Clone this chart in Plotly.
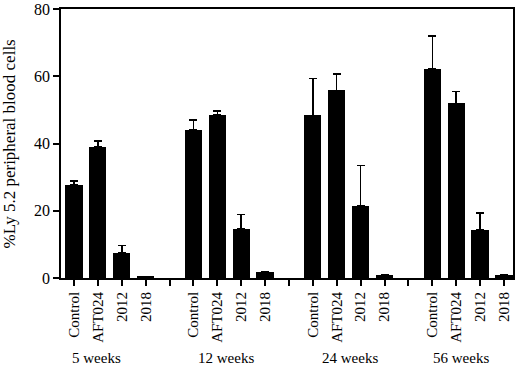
import plotly.graph_objects as go

groups = ["5 weeks", "12 weeks", "24 weeks", "56 weeks"]
treatments = ["Control", "AFT024", "2012", "2018"]

# mean % Ly 5.2 per treatment, per time point
weeks5 = [27.8, 39.1, 7.5, 0.3]
weeks12 = [44.0, 48.5, 14.6, 1.8]
weeks24 = [48.4, 55.8, 21.5, 1.0]
weeks56 = [62.2, 51.9, 14.3, 1.0]

# upper error (SD) per treatment, per time point
err5 = [1.1, 1.7, 2.1, 0.0]
err12 = [3.0, 1.2, 4.3, 0.0]
err24 = [10.9, 4.9, 11.9, 0.0]
err56 = [9.7, 3.5, 5.0, 0.0]

values = [weeks5, weeks12, weeks24, weeks56]
errors = [err5, err12, err24, err56]

xs, ys, es = [], [], []
slot_labels = []
for g, (vals, errs) in enumerate(zip(values, errors)):
    for i, (v, e) in enumerate(zip(vals, errs)):
        xs.append(g * 5 + i)
        ys.append(v)
        es.append(e)
    slot_labels.extend(treatments)
    if g < len(groups) - 1:
        slot_labels.append("")

font = "Liberation Serif"

fig = go.Figure()
fig.add_trace(go.Bar(
    x=xs, y=ys, width=0.72,
    marker=dict(color="black", line=dict(width=0)),
    error_y=dict(type="data", symmetric=False, array=es,
                 arrayminus=[0] * len(es), color="black",
                 thickness=1.5, width=4),
))

group_x = [0.96, 6.36, 11.55, 16.2]
for gx, name in zip(group_x, groups):
    fig.add_annotation(x=gx, y=-0.297, xref="x", yref="paper",
                       text=name, showarrow=False, yanchor="middle",
                       font=dict(family=font, size=15, color="black"))

fig.add_annotation(x=-0.113, y=0.5, xref="paper", yref="paper",
                   text="%Ly 5.2 peripheral blood cells", textangle=-90,
                   showarrow=False, xanchor="center", yanchor="middle",
                   font=dict(family=font, size=17, color="black"))

fig.update_layout(
    width=520, height=368,
    margin=dict(l=61, r=7, t=9, b=90, autoexpand=False),
    plot_bgcolor="white", paper_bgcolor="white",
    showlegend=False,
    font=dict(family=font, color="black"),
    bargap=0,
)
fig.update_xaxes(
    range=[-0.544, 18.38], automargin=False,
    tickmode="array", tickvals=list(range(len(slot_labels))),
    ticktext=slot_labels, tickangle=-90,
    ticks="outside", ticklen=6, tickwidth=1.5, tickcolor="black",
    showline=True, linecolor="black", linewidth=1.8, mirror=True,
    showgrid=False, zeroline=False,
    tickfont=dict(family=font, size=15, color="black"),
)
fig.update_yaxes(
    range=[0, 80], tickvals=[0, 20, 40, 60, 80], automargin=False,
    ticklabeloverflow="allow",
    ticks="outside", ticklen=6, tickwidth=1.5, tickcolor="black",
    showline=True, linecolor="black", linewidth=1.8, mirror=True,
    showgrid=False, zeroline=False,
    tickfont=dict(family=font, size=16, color="black"),
)

fig.write_html("out.html", config={"displayModeBar": False},
               post_script="document.body.style.margin='0px';")
